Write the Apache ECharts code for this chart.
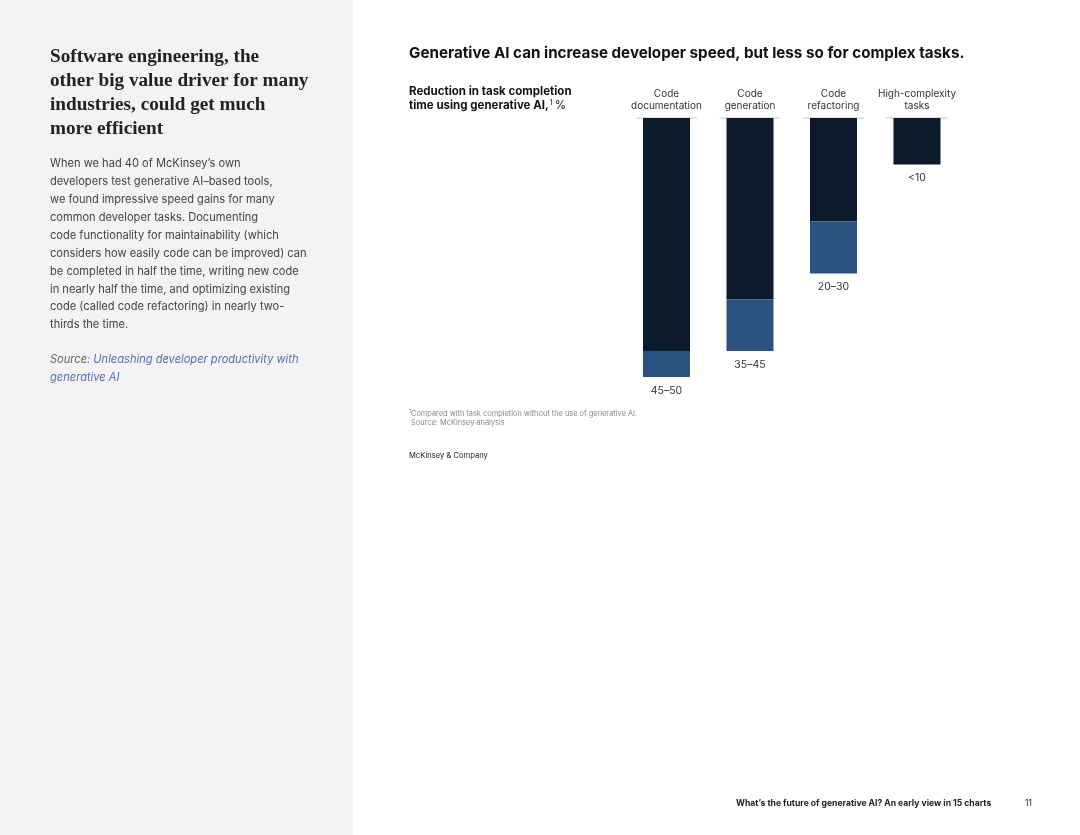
<!DOCTYPE html>
<html>
<head>
<meta charset="utf-8">
<script src="https://cdn.jsdelivr.net/npm/echarts@6/dist/echarts.min.js"></script>
<style>
html,body{margin:0;padding:0;background:#fff;}
#chart{width:1080px;height:835px;}
</style>
</head>
<body>
<div id="chart"></div>
<script>
const categories = ['Code\ndocumentation', 'Code\ngeneration', 'Code\nrefactoring', 'High-complexity\ntasks'];
const lowValues = [45, 35, 20, 9];
const rangeValues = [5, 10, 10, 0];
const rangeLabels = ['45–50', '35–45', '20–30', '<10'];
const baseline = [0, 0, 0, 0];

const SANS = 'Inter, Roboto, "Noto Sans", sans-serif';
const SERIF = '"Liberation Serif", "DejaVu Serif", serif';
const DARK = '#0c1b2b';
const LIGHT = '#2c5282';

const chart = echarts.init(document.getElementById('chart'), null, {renderer: 'canvas'});

function labelFor(i, onDark) {
  const isZeroRange = rangeValues[i] === 0;
  const show = onDark ? isZeroRange : !isZeroRange;
  return {
    show: show,
    position: 'bottom',
    distance: 8,
    formatter: rangeLabels[i],
    color: '#333',
    fontFamily: SANS,
    fontSize: 10.5
  };
}

const option = {
  backgroundColor: '#ffffff',
  animation: false,
  graphic: [
    {type: 'rect', left: 0, top: 0, z: -10, shape: {width: 353, height: 835}, style: {fill: '#f3f2f5'}},
    {type: 'text', left: 50, top: 45, style: {
      text: 'Software engineering, the\nother big value driver for many\nindustries, could get much\nmore efficient',
      font: 'bold 19.2px ' + SERIF, fill: '#222', lineHeight: 24
    }},
    {type: 'text', left: 50, top: 155, style: {
      text: 'When we had 40 of McKinsey\u2019s own\ndevelopers test generative AI\u2013based tools,\nwe found impressive speed gains for many\ncommon developer tasks. Documenting\ncode functionality for maintainability (which\nconsiders how easily code can be improved) can\nbe completed in half the time, writing new code\nin nearly half the time, and optimizing existing\ncode (called code refactoring) in nearly two-\nthirds the time.',
      font: '11.1px ' + SANS, fill: '#444', lineHeight: 17.9
    }},
    {type: 'text', left: 50, top: 351, style: {
      text: '{s|Source: }{l|Unleashing developer productivity with}\n{l|generative AI}',
      font: 'italic 11.1px ' + SANS, lineHeight: 18,
      rich: {
        s: {fill: '#666', font: 'italic 11.1px ' + SANS, lineHeight: 18},
        l: {fill: '#5a6db3', font: 'italic 11.1px ' + SANS, lineHeight: 18}
      }
    }},
    {type: 'text', left: 409, top: 46, style: {
      text: 'Generative AI can increase developer speed, but less so for complex tasks.',
      font: 'bold 15.2px ' + SANS, fill: '#111'
    }},
    {type: 'text', left: 409, top: 86, style: {
      text: '{b|Reduction in task completion}\n{b|time using generative AI,}{sup|1}{n|%}',
      rich: {
        b: {font: 'bold 11.5px ' + SANS, fill: '#111', lineHeight: 14},
        sup: {font: '7px ' + SANS, fill: '#111', verticalAlign: 'top', lineHeight: 14, padding: [0, 2, 5, 1]},
        n: {font: '11.5px ' + SANS, fill: '#111', lineHeight: 14}
      }
    }},
    {type: 'text', left: 409, top: 409, style: {
      text: '{sup|1}{t|Compared with task completion without the use of generative AI.}\n{t| Source: McKinsey analysis}',
      rich: {
        sup: {font: '5px ' + SANS, fill: '#888', lineHeight: 9, verticalAlign: 'top'},
        t: {font: '7.4px ' + SANS, fill: '#888', lineHeight: 9}
      }
    }},
    {type: 'text', left: 409, top: 452, style: {
      text: 'McKinsey & Company', font: '7.6px ' + SANS, fill: '#222'
    }},
    {type: 'text', left: 736, top: 799, style: {
      text: 'What\u2019s the future of generative AI? An early view in 15 charts', font: 'bold 8.6px ' + SANS, fill: '#222'
    }},
    {type: 'text', left: 1025, top: 799, style: {
      text: '11', font: '8.4px ' + SANS, fill: '#222'
    }}
  ],
  grid: {left: 624.75, top: 118, width: 334, height: 259, containLabel: false},
  xAxis: {
    type: 'category',
    data: categories,
    position: 'top',
    axisLine: {show: false},
    axisTick: {show: false},
    axisLabel: {
      margin: 6,
      color: '#333',
      fontFamily: SANS,
      fontSize: 10,
      lineHeight: 12,
      interval: 0
    }
  },
  yAxis: {
    type: 'value',
    inverse: true,
    min: 0,
    max: 50,
    show: false,
    splitLine: {show: false}
  },
  series: [
    {
      type: 'bar',
      stack: 'r',
      barWidth: 47,
      data: lowValues.map((v, i) => ({value: v, label: labelFor(i, true)})),
      itemStyle: {color: DARK}
    },
    {
      type: 'bar',
      stack: 'r',
      barWidth: 47,
      data: rangeValues.map((v, i) => ({value: v, label: labelFor(i, false)})),
      itemStyle: {color: LIGHT}
    },
    {
      type: 'scatter',
      symbol: 'rect',
      symbolSize: [61, 1],
      data: baseline,
      itemStyle: {color: '#b5b5b5'},
      z: 1,
      silent: true
    }
  ]
};
chart.setOption(option);
</script>
</body>
</html>
